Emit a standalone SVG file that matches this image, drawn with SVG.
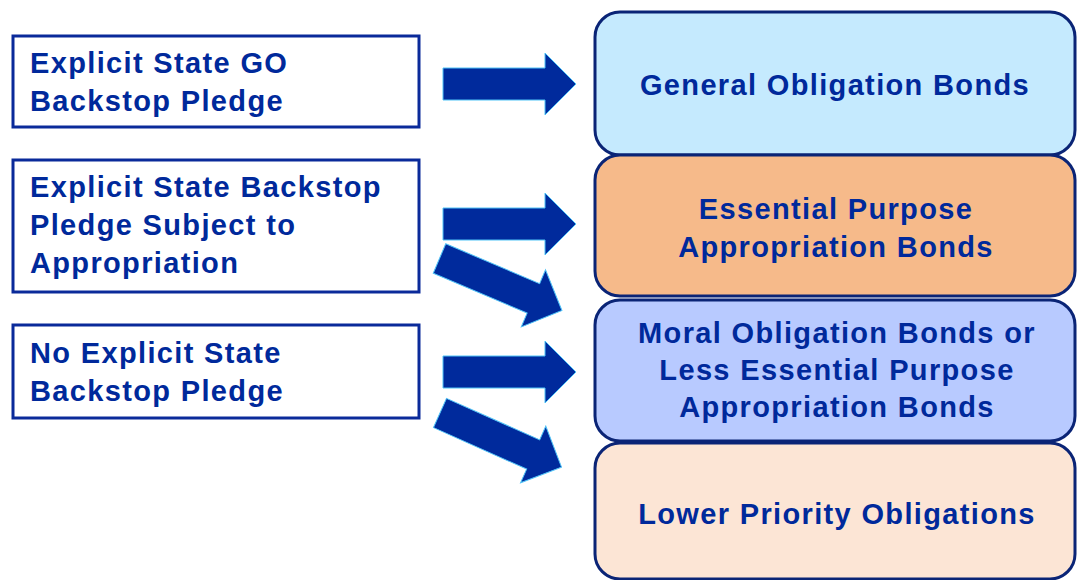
<svg xmlns="http://www.w3.org/2000/svg" width="1079" height="580" viewBox="0 0 1079 580">
  <style>
    .lbox { fill: #ffffff; stroke: #0A2A9A; stroke-width: 3; }
    .rbox { stroke: #0A2476; stroke-width: 3; }
    .t { font-family: "Liberation Sans", Arial, sans-serif; font-weight: bold; font-size: 29px; letter-spacing: 1.35px; fill: #00299B; }
    .c { text-anchor: middle; }
    .arrow { fill: #002A9C; stroke: #4FC3F7; stroke-width: 1; }
  </style>
  <defs>
    <path id="arr" d="M0,-16 H102 V-31 L133,0 L102,31 V16 H0 Z"/>
  </defs>
  <rect width="1079" height="580" fill="#ffffff"/>

  <g id="right-go">
    <rect class="rbox" x="595" y="12" width="480" height="143" rx="25" fill="#C5EAFE"/>
    <text class="t c" x="835" y="95">General Obligation Bonds</text>
  </g>
  <g id="right-essential">
    <rect class="rbox" x="595" y="155" width="480" height="141" rx="25" fill="#F6BA8A"/>
    <text class="t c" x="836" y="219">Essential Purpose</text>
    <text class="t c" x="836" y="257">Appropriation Bonds</text>
  </g>
  <g id="right-moral">
    <rect class="rbox" x="595" y="300" width="480" height="141" rx="25" fill="#B8CAFF"/>
    <text class="t c" x="837" y="343">Moral Obligation Bonds or</text>
    <text class="t c" x="837" y="380">Less Essential Purpose</text>
    <text class="t c" x="837" y="417">Appropriation Bonds</text>
  </g>
  <g id="right-lower">
    <rect class="rbox" x="595" y="443" width="480" height="136" rx="25" fill="#FCE5D5"/>
    <text class="t c" x="837" y="524">Lower Priority Obligations</text>
  </g>

  <g id="left-go">
    <rect class="lbox" x="13" y="36" width="406" height="91"/>
    <text class="t" x="30" y="73">Explicit State GO</text>
    <text class="t" x="30" y="111">Backstop Pledge</text>
  </g>
  <g id="left-approp">
    <rect class="lbox" x="13" y="160" width="406" height="132"/>
    <text class="t" x="30" y="197">Explicit State Backstop</text>
    <text class="t" x="30" y="235">Pledge Subject to</text>
    <text class="t" x="30" y="273">Appropriation</text>
  </g>
  <g id="left-none">
    <rect class="lbox" x="13" y="325" width="406" height="93"/>
    <text class="t" x="30" y="363">No Explicit State</text>
    <text class="t" x="30" y="401">Backstop Pledge</text>
  </g>

  <g id="connectors">
    <use href="#arr" class="arrow" transform="translate(443,84)"/>
    <use href="#arr" class="arrow" transform="translate(443,224)"/>
    <use href="#arr" class="arrow" transform="translate(439.5,258.5) rotate(23)"/>
    <use href="#arr" class="arrow" transform="translate(443,372)"/>
    <use href="#arr" class="arrow" transform="translate(440,413) rotate(24)"/>
  </g>
</svg>
